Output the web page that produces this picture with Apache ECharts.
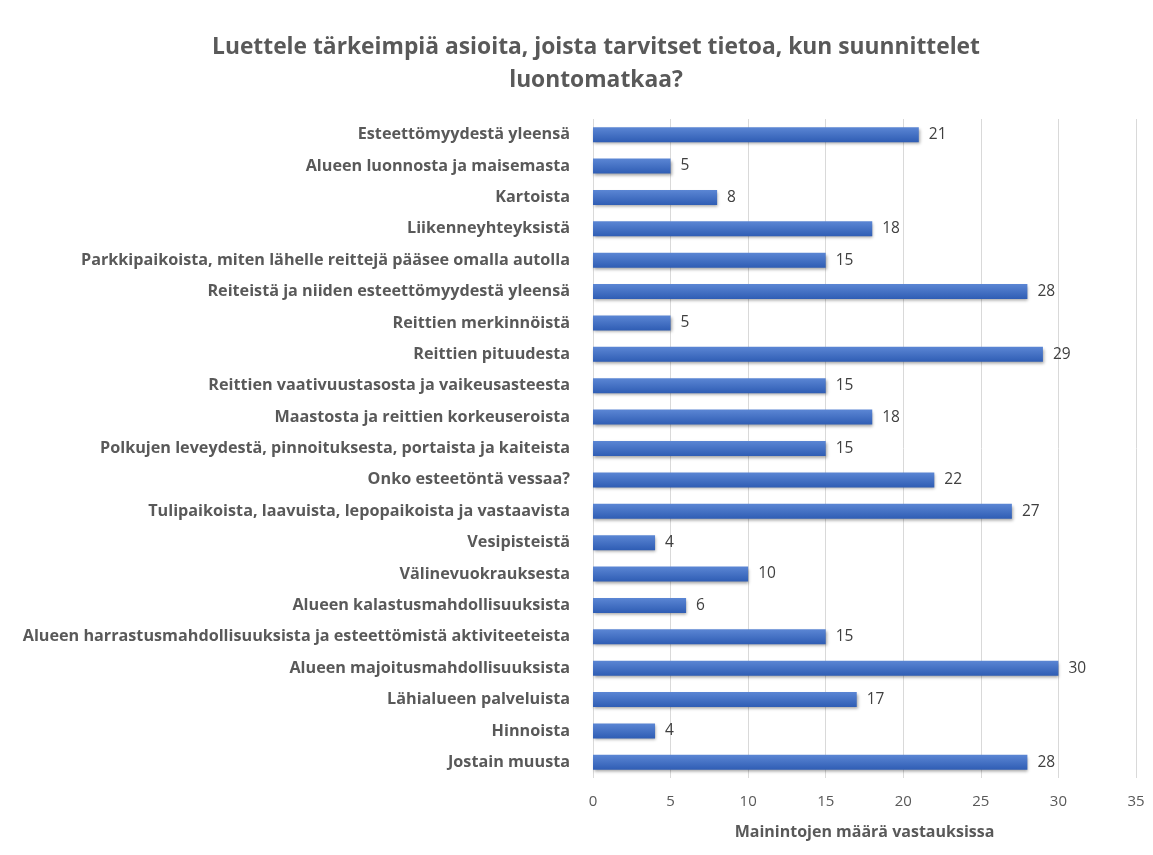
<!DOCTYPE html>
<html><head><meta charset="utf-8">
<script src="https://cdn.jsdelivr.net/npm/echarts@6/dist/echarts.min.js"></script>
<style>html,body{margin:0;padding:0;background:#fff}#c{width:1153px;height:855px}</style>
</head><body><div id="c"></div>
<script>
const categories = [
"Esteettömyydestä yleensä",
"Alueen luonnosta ja maisemasta",
"Kartoista",
"Liikenneyhteyksistä",
"Parkkipaikoista, miten lähelle reittejä pääsee omalla autolla",
"Reiteistä ja niiden esteettömyydestä yleensä",
"Reittien merkinnöistä",
"Reittien pituudesta",
"Reittien vaativuustasosta ja vaikeusasteesta",
"Maastosta ja reittien korkeuseroista",
"Polkujen leveydestä, pinnoituksesta, portaista ja kaiteista",
"Onko esteetöntä vessaa?",
"Tulipaikoista, laavuista, lepopaikoista ja vastaavista",
"Vesipisteistä",
"Välinevuokrauksesta",
"Alueen kalastusmahdollisuuksista",
"Alueen harrastusmahdollisuuksista ja esteettömistä aktiviteeteista",
"Alueen majoitusmahdollisuuksista",
"Lähialueen palveluista",
"Hinnoista",
"Jostain muusta"
];
const values = [21,5,8,18,15,28,5,29,15,18,15,22,27,4,10,6,15,30,17,4,28];
const titleText = "Luettele tärkeimpiä asioita, joista tarvitset tietoa, kun suunnittelet\nluontomatkaa?";
const axisName = "Mainintojen määrä vastauksissa";

const font = "Open Sans";
const chart = echarts.init(document.getElementById('c'));
chart.setOption({
  animation:false,
  title:{text:titleText,left:591,textAlign:'center',top:26,
    textStyle:{fontFamily:font,fontSize:22.8,fontWeight:'bold',color:'#595959',lineHeight:33}},
  grid:{left:593,right:17,top:119,bottom:77,containLabel:false},
  xAxis:{type:'value',min:0,max:35,interval:5,
    name:axisName,nameLocation:'middle',nameGap:46,
    nameTextStyle:{fontFamily:font,fontSize:16,fontWeight:'bold',color:'#595959'},
    axisLine:{show:false},axisTick:{show:false},
    axisLabel:{fontFamily:font,fontSize:15,color:'#595959',margin:16},
    splitLine:{show:true,lineStyle:{color:'#d9d9d9',width:1}}},
  yAxis:{type:'category',data:categories,inverse:true,
    axisLine:{show:false},axisTick:{show:false},
    axisLabel:{fontFamily:font,fontSize:16.2,fontWeight:'bold',color:'#595959',margin:23}},
  series:[{type:'bar',data:values,barWidth:15,
    itemStyle:{color:new echarts.graphic.LinearGradient(0,0,0,1,[{offset:0,color:'#5b86d4'},{offset:1,color:'#2f5db4'}]),
      shadowColor:'rgba(0,0,0,0.35)',shadowBlur:3,shadowOffsetX:1,shadowOffsetY:2},
    label:{show:true,position:'right',distance:10,fontFamily:font,fontSize:15.5,color:'#404040'}}]
});
</script></body></html>
